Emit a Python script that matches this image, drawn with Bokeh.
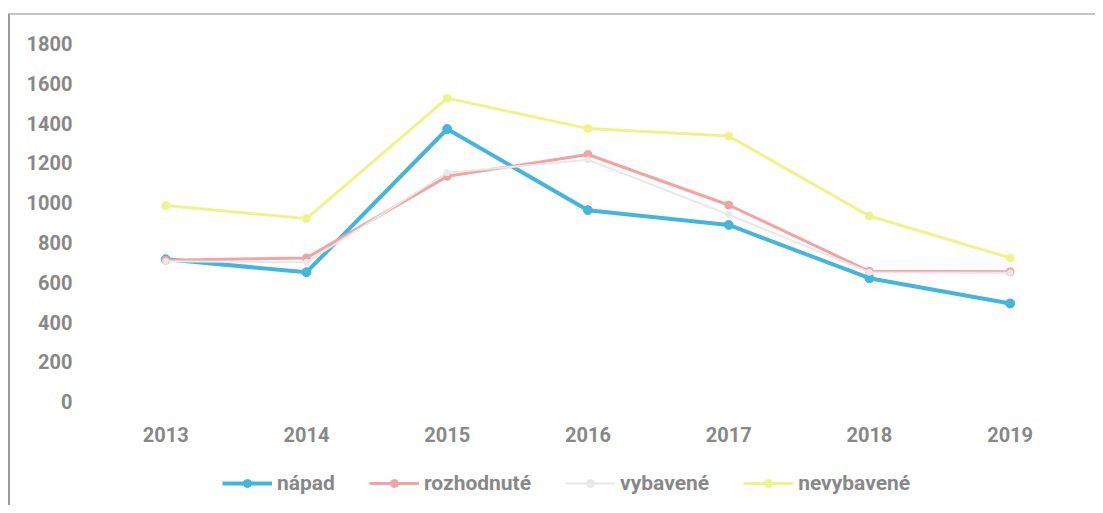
from bokeh.plotting import figure
from bokeh.models import Range1d, Legend, LegendItem, FixedTicker
from bokeh.layouts import column
from bokeh.embed import file_html
from bokeh.resources import INLINE

years = [2013, 2014, 2015, 2016, 2017, 2018, 2019]
napad = [715, 650, 1370, 962, 888, 620, 493]
rozhodnute = [710, 722, 1132, 1242, 988, 655, 652]
vybavene = [705, 700, 1150, 1215, 940, 650, 648]
nevybavene = [985, 920, 1525, 1372, 1335, 933, 722]
y_ticks = [0, 200, 400, 600, 800, 1000, 1200, 1400, 1600, 1800]

p = figure(width=1085, height=455, output_backend="svg", toolbar_location=None,
           x_range=Range1d(2012.43, 2019.5), y_range=Range1d(-95, 1865),
           min_border_left=75, min_border_right=15, min_border_top=15, min_border_bottom=50)
p.outline_line_color = None
p.xgrid.grid_line_color = None
p.ygrid.grid_line_color = None

font = "Roboto"
for ax in (p.xaxis[0], p.yaxis[0]):
    ax.axis_line_color = None
    ax.major_tick_line_color = None
    ax.minor_tick_line_color = None
    ax.major_label_text_color = "#888888"
    ax.major_label_text_font = font
    ax.major_label_text_font_style = "bold"
    ax.major_label_text_font_size = "20px"
p.xaxis.ticker = FixedTicker(ticks=years)
p.yaxis.ticker = FixedTicker(ticks=y_ticks)
p.xaxis.major_label_standoff = 0
p.yaxis.major_label_standoff = 7

series = [
    ("nápad", napad, "#45b5dc", 4, 9),
    ("rozhodnuté", rozhodnute, "#f2a3a3", 3, 8),
    ("vybavené", vybavene, "#e8e8e8", 2, 6),
    ("nevybavené", nevybavene, "#eef48c", 3, 8),
]

# legend strip below the chart
p2 = figure(width=1085, height=35, output_backend="svg", toolbar_location=None,
            x_range=Range1d(0, 1), y_range=Range1d(0, 1),
            x_axis_type=None, y_axis_type=None,
            min_border_left=0, min_border_right=0, min_border_top=0, min_border_bottom=0)
p2.outline_line_color = None
p2.grid.grid_line_color = None

items = []
for name, vals, col, lw, ms in series:
    p.line(years, vals, line_color=col, line_width=lw)
    p.scatter(years, vals, size=ms, fill_color=col, line_color=col)
    l2 = p2.line(years, vals, line_color=col, line_width=lw)
    c2 = p2.scatter(years, vals, size=ms, fill_color=col, line_color=col)
    items.append(LegendItem(label=name, renderers=[l2, c2]))

legend = Legend(items=items, orientation="horizontal", location=(137, 10),
                label_text_font=font, label_text_font_style="bold",
                label_text_font_size="21px", label_text_color="#888888",
                glyph_width=50, spacing=34, label_standoff=5, padding=0, margin=0,
                border_line_color=None, background_fill_alpha=0)
p2.add_layout(legend, "center")

layout = column(p, p2, spacing=0)
layout.styles = {"border-left": "2px solid #9a9a9a", "border-top": "2px solid #c4c4c4",
                 "margin-left": "8px", "margin-top": "13px"}

open("out.html", "w").write(file_html(layout, INLINE))
